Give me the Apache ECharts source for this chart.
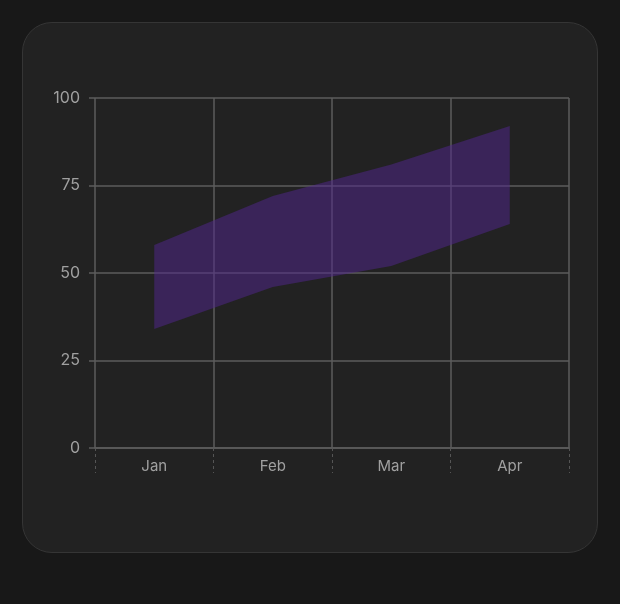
<!DOCTYPE html>
<html>
<head>
<meta charset="utf-8">
<script src="https://cdn.jsdelivr.net/npm/echarts@6/dist/echarts.min.js"></script>
<style>
  html, body { margin: 0; padding: 0; background: #181818; }
  #card {
    position: absolute; left: 22px; top: 22px;
    width: 574px; height: 529px;
    background: #222222; border: 1px solid #353535; border-radius: 30px;
  }
  #chart { position: absolute; left: 0; top: 0; width: 620px; height: 604px; }
</style>
</head>
<body>
<div id="card"></div>
<div id="chart"></div>
<script>
// band data
var months = ['Jan', 'Feb', 'Mar', 'Apr'];
var lowerValues = [34, 46, 52, 64];
var upperValues = [58, 72, 81, 92];
var yTicks = [0, 25, 50, 75, 100];

var rangeValues = upperValues.map(function (v, i) { return v - lowerValues[i]; });

var chart = echarts.init(document.getElementById('chart'), null, { renderer: 'canvas' });

var option = {
  backgroundColor: 'transparent',
  animation: false,
  textStyle: { fontFamily: 'Inter' },
  grid: { left: 95, right: 51, top: 98, bottom: 156 },
  xAxis: {
    type: 'category',
    data: months,
    boundaryGap: true,
    axisLine: { show: true, lineStyle: { color: '#5c5c5c', width: 1.5 } },
    axisTick: { show: true, length: 25, lineStyle: { color: '#555', type: [3, 3] } },
    axisLabel: { color: '#a0a0a0', fontSize: 15, margin: 11 },
    splitLine: { show: true, lineStyle: { color: '#5c5c5c', width: 1.5 } }
  },
  yAxis: {
    type: 'value',
    min: yTicks[0],
    max: yTicks[yTicks.length - 1],
    interval: 25,
    axisLine: { show: false },
    axisTick: { show: true, length: 6, lineStyle: { color: '#5c5c5c', width: 1.5 } },
    axisLabel: { color: '#a0a0a0', fontSize: 16, margin: 15 },
    splitLine: { show: true, lineStyle: { color: '#5c5c5c', width: 1.5 } }
  },
  series: [
    {
      name: 'lower',
      type: 'line',
      stack: 'band',
      data: lowerValues,
      symbol: 'none',
      lineStyle: { width: 0, opacity: 0 },
      silent: true
    },
    {
      name: 'range',
      type: 'line',
      stack: 'band',
      data: rangeValues,
      symbol: 'none',
      lineStyle: { width: 0, opacity: 0 },
      areaStyle: { color: 'rgba(82, 38, 144, 0.5)', opacity: 1 },
      silent: true
    }
  ]
};

chart.setOption(option);
</script>
</body>
</html>
